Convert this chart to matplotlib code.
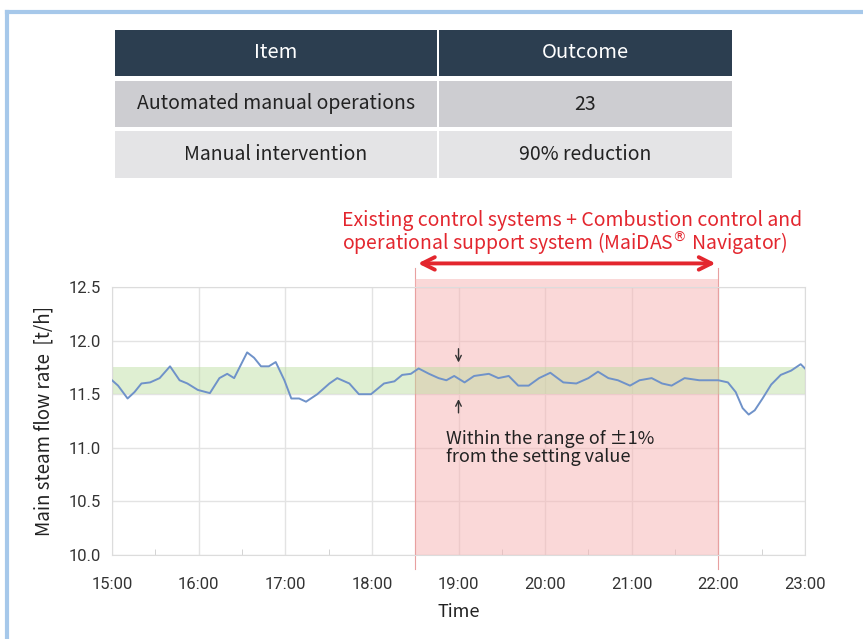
import matplotlib.pyplot as plt
from matplotlib.patches import Rectangle
from matplotlib.lines import Line2D
import numpy as np

# table contents
table_header = ["Item", "Outcome"]
table_rows = [["Automated manual operations", "23"],
              ["Manual intervention", "90% reduction"]]

# main steam flow rate trace (hour of day, t/h)
hours = [15.00, 15.07, 15.18, 15.26, 15.34, 15.44, 15.55, 15.67, 15.78, 15.87,
         15.99, 16.13, 16.24, 16.33, 16.41, 16.56, 16.64, 16.72, 16.81, 16.89,
         16.99, 17.07, 17.16, 17.24, 17.37, 17.51, 17.60, 17.74, 17.85, 17.99,
         18.14, 18.26, 18.35, 18.45, 18.54, 18.66, 18.77, 18.86, 18.95, 19.07,
         19.18, 19.35, 19.46, 19.58, 19.69, 19.81, 19.93, 20.06, 20.21, 20.36,
         20.50, 20.61, 20.73, 20.84, 20.98, 21.09, 21.23, 21.35, 21.46, 21.61,
         21.78, 22.00, 22.11, 22.20, 22.28, 22.35, 22.42, 22.51, 22.61, 22.72,
         22.84, 22.95, 23.00]
flow = [11.63, 11.58, 11.46, 11.52, 11.60, 11.61, 11.65, 11.76, 11.63, 11.60,
        11.54, 11.51, 11.65, 11.69, 11.65, 11.89, 11.84, 11.76, 11.76, 11.80,
        11.63, 11.46, 11.46, 11.43, 11.50, 11.60, 11.65, 11.60, 11.50, 11.50,
        11.60, 11.62, 11.68, 11.69, 11.74, 11.69, 11.65, 11.63, 11.67, 11.61,
        11.67, 11.69, 11.65, 11.67, 11.58, 11.58, 11.65, 11.70, 11.61, 11.60,
        11.65, 11.71, 11.65, 11.63, 11.58, 11.63, 11.65, 11.60, 11.58, 11.65,
        11.63, 11.63, 11.61, 11.52, 11.37, 11.31, 11.35, 11.46, 11.59, 11.68,
        11.72, 11.78, 11.74]

band_low, band_high = 11.5, 11.75
navigator_start, navigator_end = 18.5, 22.0
xticks = [15, 16, 17, 18, 19, 20, 21, 22, 23]
xtick_labels = ["15:00", "16:00", "17:00", "18:00", "19:00", "20:00", "21:00", "22:00", "23:00"]
yticks = [10.0, 10.5, 11.0, 11.5, 12.0, 12.5]

plt.rcParams['font.family'] = ['Roboto', 'DejaVu Sans']
jp = ['Noto Sans CJK JP', 'DejaVu Sans']

W, H = 863, 639
fig = plt.figure(figsize=(W / 100, H / 100), dpi=100)

# overlay axes in pixel coordinates for table / border
over = fig.add_axes([0, 0, 1, 1])
over.set_xlim(0, W)
over.set_ylim(H, 0)
over.axis('off')

# light blue frame on left and top
over.add_line(Line2D([7, 7], [H, 12], color='#a6c8ea', lw=3))
over.add_line(Line2D([7, W], [12, 12], color='#a6c8ea', lw=3))

# table
col_x = [115, 438, 732]
row_y = [(30, 76, '#2c3e50'), (81, 127, '#cdcdd1'), (131, 178, '#e4e4e6')]
for r, (y0, y1, c) in enumerate(row_y):
    cells = table_header if r == 0 else table_rows[r - 1]
    for k in range(2):
        x0 = col_x[k] + (1 if k else 0)
        x1 = col_x[k + 1] - (1 if k == 0 else 0)
        over.add_patch(Rectangle((x0, y0), x1 - x0, y1 - y0, facecolor=c, edgecolor='none'))
        over.text((x0 + x1) / 2, (y0 + y1) / 2, cells[k], ha='center', va='center',
                  fontsize=14.5 if r == 0 else 14, family=jp,
                  color='white' if r == 0 else '#222222')

# main chart
ax = fig.add_axes([112 / W, 1 - 555 / H, (805 - 112) / W, (555 - 287) / H])
ax.axvspan(navigator_start, navigator_end, facecolor='#f7b3b3', alpha=0.5,
           edgecolor='#e89090', lw=0.8, zorder=1)
ax.axhspan(band_low, band_high, facecolor='#b9dc9c', alpha=0.45, edgecolor='none', zorder=1.5)
ax.plot(hours, flow, color='#6f92c9', lw=1.4, zorder=3, solid_joinstyle='round')

ax.set_xlim(15, 23)
ax.set_ylim(10.0, 12.5)
ax.set_xticks(xticks)
ax.set_xticklabels(xtick_labels)
ax.set_xticks(np.arange(15.5, 23, 1.0), minor=True)
ax.set_yticks(yticks)
ax.set_yticklabels([f"{v:.1f}" for v in yticks])
ax.grid(True, color='#e3e3e3', lw=1, zorder=0)
ax.set_axisbelow(True)
for s in ax.spines.values():
    s.set_color('#dcdcdc')
ax.tick_params(axis='y', which='major', length=0, labelsize=12, colors='#333333', pad=8)
ax.tick_params(axis='x', which='major', length=0, labelsize=12, colors='#333333', pad=16)
ax.tick_params(axis='x', which='minor', direction='in', length=4, color='#cccccc')
ax.set_xlabel("Time", fontsize=13, family=jp, color='#222222', labelpad=8)
ax.set_ylabel("Main steam flow rate  [t/h]", fontsize=13.5, family=jp, color='#222222',
              labelpad=10)

# span extension lines and double arrow
for xv in (navigator_start, navigator_end):
    ax.plot([xv, xv], [9.87, 12.68], color='#e8a0a0', lw=0.8, clip_on=False, zorder=1)
ax.add_patch(Rectangle((navigator_start, 12.5), navigator_end - navigator_start, 0.07,
                       facecolor='#f7b3b3', alpha=0.5, edgecolor='none', clip_on=False))
ax.annotate("", xy=(navigator_start, 12.72), xytext=(navigator_end, 12.72),
            arrowprops=dict(arrowstyle='<->,head_width=0.45,head_length=0.9',
                            color='#e3262e', lw=2.8), annotation_clip=False)
ax.text(17.66, 13.0, "Existing control systems + Combustion control and\n"
        "operational support system (MaiDAS$^{®}$ Navigator)",
        color='#e3262e', fontsize=14, family=jp, ha='left', va='center', linespacing=0.95,
        clip_on=False)

# +-1% markers
ax.annotate("", xy=(19.0, band_high + 0.02), xytext=(19.0, band_high + 0.2),
            arrowprops=dict(arrowstyle='->', color='#333333', lw=1))
ax.annotate("", xy=(19.0, band_low - 0.02), xytext=(19.0, band_low - 0.2),
            arrowprops=dict(arrowstyle='->', color='#333333', lw=1))
ax.text(18.86, 11.0, "Within the range of ±1%\nfrom the setting value",
        fontsize=13, family=jp, color='#222222', ha='left', va='center', linespacing=1.0)

fig.savefig("out.png", dpi=100)
